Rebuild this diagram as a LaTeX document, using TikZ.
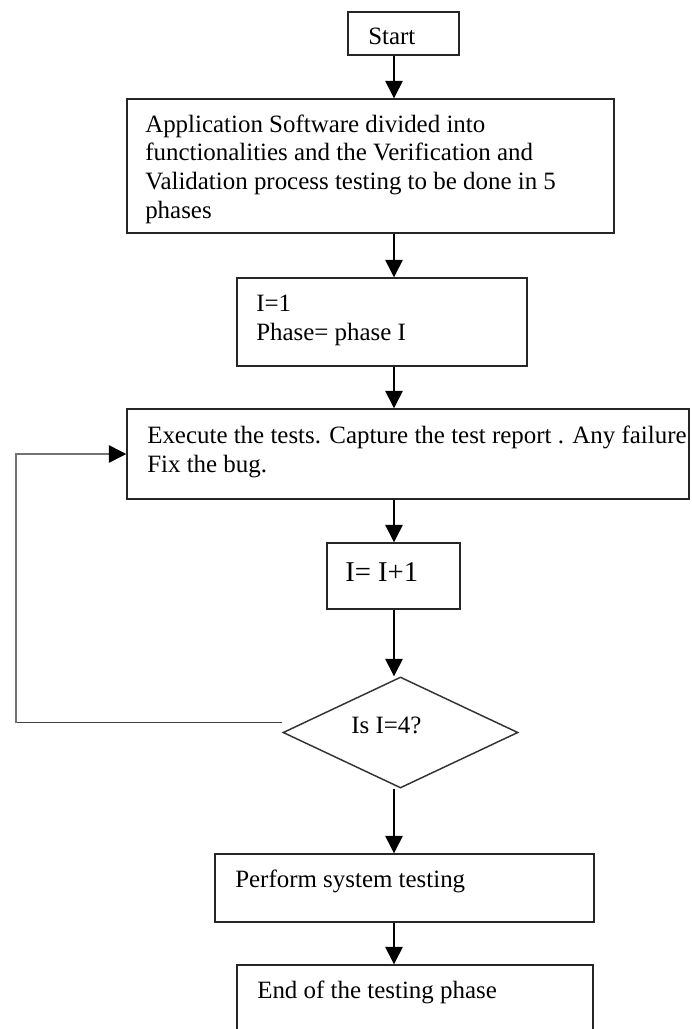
\documentclass[tikz,border=0pt]{standalone}
\usepackage{fontspec}
\setmainfont{Liberation Serif}
\usetikzlibrary{arrows.meta,shapes.geometric,fit,calc}

\begin{document}
\begin{tikzpicture}[
  x=0.75pt, y=-0.75pt,
  box/.style={draw=black!85, line width=1.1pt, rectangle, inner sep=0pt},
  decision/.style={draw=black!80, line width=1.1pt, diamond, inner sep=0pt,
    minimum width=235*0.75pt, minimum height=111*0.75pt},
  txt/.style={inner sep=0pt, align=left, text=black,
    font=\fontsize{18.7pt}{21.5pt}\selectfont},
  bigtxt/.style={inner sep=0pt, text=black,
    font=\fontsize{21.5pt}{24pt}\selectfont},
  arr/.style={line width=1.1pt, -{Triangle[length=13pt,width=13pt]}},
  loopline/.style={line width=1.1pt, draw=black!55},
]
\useasboundingbox (0,0) rectangle (692,1029);
\fill[white] (0,0) rectangle (692,1029);

% vertical axis of the main flow
\coordinate (spine) at (394,0);

% boxes (multi-line texts are placed by the baseline of their last line)
\node[box, fit={(348,12) (459,55)}] (start) {};
\node[txt, anchor=base west] (startt) at (368,44) {Start};

\node[box, fit={(127,99) (614,233)}] (split) {};
\node[txt, anchor=base west] (splitt) at (145,218)
  {Application Software divided into\\
   functionalities and the Verification and\\
   Validation process testing to be done in 5\\
   phases};

\node[box, fit={(237,278) (527,366)}] (init) {};
\node[txt, anchor=base west] (initt) at (256,340) {I=1\\Phase= phase I};

\node[box, fit={(127,409) (689,499)}] (exec) {};
\node[txt, anchor=base west] (exect) at (147,472)
  {Execute the tests. Capture the test report . Any failure\\
   Fix the bug.};

\node[box, fit={(327,543) (460,609)}] (incr) {};
\node[bigtxt, anchor=base west] (incrt) at (345,581) {I= I+1};

\node[decision] (dia) at (400.5,732.5) {};
\node[txt, anchor=base west] (diat) at (351,733) {Is I=4?};

\node[box, fit={(215,854) (594,922)}] (sys) {};
\node[txt, anchor=base west] (syst) at (235,887) {Perform system testing};

\node[box, fit={(237,965) (593,1060)}] (fin) {};
\node[txt, anchor=base west] (fint) at (257,998) {End of the testing phase};

% main flow connectors
\draw[arr] (start.south -| spine) -- (split.north -| spine);
\draw[arr] (split.south -| spine) -- (init.north -| spine);
\draw[arr] (init.south -| spine) -- (exec.north -| spine);
\draw[arr] (exec.south -| spine) -- (incr.north -| spine);
\draw[arr] (incr.south -| spine) -- (dia.north -| spine);
\draw[arr] (dia.south -| spine) -- (sys.north -| spine);
\draw[arr] (sys.south -| spine) -- (fin.north -| spine);

% loop back from the decision to the test step
\coordinate (loopout) at ($(dia.west)+(0,-10)$);
\coordinate (loopx) at (16,0);
\draw[line width=1.1pt, draw=black!75] (loopout) -- (loopout -| loopx);
\draw[loopline] (loopout -| loopx) -- (exec.west -| loopx) -- ([xshift=-12pt]exec.west);
\draw[arr] ([xshift=-13pt]exec.west) -- (exec.west);
\end{tikzpicture}
\end{document}
